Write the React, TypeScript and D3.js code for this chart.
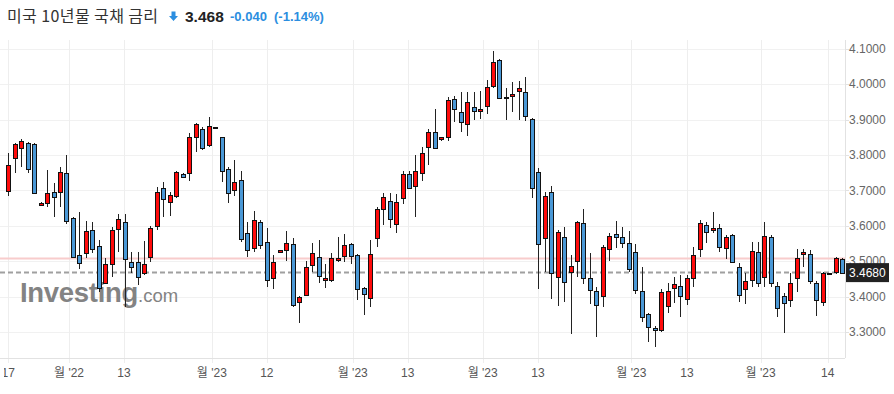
import React from "react";
import * as d3 from "d3";

// daily OHLC, US 10Y yield
const opens = [
  3.699, 3.792, 3.82, 3.834, 3.831, 3.659, 3.665, 3.696, 3.696, 3.75,
  3.622, 3.518, 3.523, 3.588, 3.544, 3.439, 3.492, 3.591, 3.611, 3.498,
  3.498, 3.467, 3.512, 3.6, 3.707, 3.668, 3.685, 3.747, 3.75, 3.851,
  3.874, 3.829, 3.88, 3.851, 3.761, 3.702, 3.73, 3.58, 3.538, 3.611,
  3.555, 3.453, 3.526, 3.532, 3.549, 3.385, 3.405, 3.49, 3.512, 3.447,
  3.447, 3.504, 3.515, 3.549, 3.518, 3.425, 3.396, 3.566, 3.648, 3.67,
  3.605, 3.679, 3.747, 3.713, 3.75, 3.823, 3.865, 3.846, 3.851, 3.959,
  3.922, 3.888, 3.936, 3.925, 3.939, 3.995, 4.069, 3.964, 3.967, 3.981,
  3.978, 3.902, 3.752, 3.566, 3.696, 3.456, 3.569, 3.47, 3.501, 3.608,
  3.453, 3.416, 3.402, 3.535, 3.577, 3.569, 3.552, 3.526, 3.416, 3.351,
  3.312, 3.306, 3.374, 3.425, 3.43, 3.394, 3.453, 3.535, 3.603, 3.588,
  3.594, 3.538, 3.574, 3.484, 3.422, 3.447, 3.526, 3.456, 3.569, 3.43,
  3.402, 3.391, 3.453, 3.521, 3.521, 3.439, 3.385, 3.468, 3.47, 3.507,
];
const highs = [
  3.806, 3.834, 3.846, 3.837, 3.833, 3.667, 3.758, 3.721, 3.766, 3.8,
  3.624, 3.639, 3.614, 3.611, 3.56, 3.509, 3.597, 3.634, 3.634, 3.526,
  3.526, 3.557, 3.6, 3.71, 3.724, 3.696, 3.755, 3.75, 3.862, 3.891,
  3.879, 3.908, 3.88, 3.851, 3.766, 3.786, 3.755, 3.611, 3.642, 3.617,
  3.594, 3.518, 3.532, 3.586, 3.566, 3.402, 3.501, 3.552, 3.56, 3.492,
  3.523, 3.569, 3.577, 3.552, 3.521, 3.427, 3.56, 3.653, 3.693, 3.693,
  3.69, 3.755, 3.755, 3.8, 3.823, 3.874, 3.93, 3.852, 3.964, 3.967,
  3.978, 3.978, 3.978, 3.981, 4.012, 4.094, 4.072, 3.99, 4.007, 4.009,
  4.021, 3.904, 3.764, 3.696, 3.713, 3.588, 3.597, 3.518, 3.614, 3.648,
  3.523, 3.427, 3.546, 3.58, 3.614, 3.597, 3.586, 3.549, 3.484, 3.354,
  3.317, 3.422, 3.439, 3.456, 3.461, 3.461, 3.54, 3.617, 3.611, 3.639,
  3.605, 3.575, 3.577, 3.495, 3.467, 3.555, 3.555, 3.611, 3.574, 3.442,
  3.411, 3.467, 3.535, 3.535, 3.532, 3.444, 3.47, 3.468, 3.512, 3.509,
];
const lows = [
  3.684, 3.75, 3.766, 3.75, 3.69, 3.657, 3.653, 3.625, 3.653, 3.605,
  3.511, 3.478, 3.509, 3.523, 3.414, 3.436, 3.456, 3.526, 3.371, 3.467,
  3.433, 3.461, 3.498, 3.588, 3.625, 3.628, 3.679, 3.735, 3.727, 3.809,
  3.814, 3.823, 3.88, 3.724, 3.665, 3.685, 3.555, 3.512, 3.526, 3.535,
  3.427, 3.422, 3.526, 3.501, 3.371, 3.326, 3.403, 3.47, 3.439, 3.425,
  3.442, 3.498, 3.498, 3.492, 3.391, 3.348, 3.371, 3.54, 3.603, 3.594,
  3.58, 3.662, 3.705, 3.625, 3.727, 3.772, 3.817, 3.84, 3.84, 3.894,
  3.865, 3.854, 3.899, 3.902, 3.916, 3.99, 3.958, 3.899, 3.922, 3.899,
  3.896, 3.679, 3.422, 3.47, 3.394, 3.374, 3.385, 3.295, 3.456, 3.436,
  3.379, 3.286, 3.371, 3.501, 3.538, 3.538, 3.47, 3.408, 3.329, 3.272,
  3.258, 3.3, 3.354, 3.382, 3.343, 3.377, 3.427, 3.512, 3.552, 3.58,
  3.526, 3.507, 3.495, 3.385, 3.379, 3.427, 3.427, 3.427, 3.427, 3.343,
  3.297, 3.371, 3.413, 3.484, 3.436, 3.346, 3.374, 3.468, 3.464, 3.464,
];
const closes = [
  3.772, 3.831, 3.84, 3.761, 3.693, 3.665, 3.693, 3.682, 3.752, 3.614,
  3.512, 3.495, 3.586, 3.535, 3.424, 3.492, 3.588, 3.619, 3.507, 3.484,
  3.456, 3.492, 3.594, 3.696, 3.676, 3.687, 3.752, 3.738, 3.851, 3.888,
  3.82, 3.882, 3.88, 3.755, 3.693, 3.724, 3.563, 3.532, 3.617, 3.546,
  3.447, 3.498, 3.532, 3.552, 3.377, 3.399, 3.484, 3.523, 3.459, 3.453,
  3.509, 3.509, 3.546, 3.515, 3.422, 3.408, 3.521, 3.648, 3.682, 3.619,
  3.668, 3.747, 3.707, 3.755, 3.806, 3.865, 3.82, 3.851, 3.956, 3.93,
  3.894, 3.95, 3.925, 3.93, 3.992, 4.063, 3.961, 3.961, 3.973, 3.99,
  3.911, 3.707, 3.549, 3.685, 3.467, 3.583, 3.442, 3.487, 3.611, 3.453,
  3.419, 3.377, 3.54, 3.572, 3.569, 3.552, 3.478, 3.419, 3.343, 3.314,
  3.306, 3.413, 3.416, 3.436, 3.402, 3.453, 3.518, 3.608, 3.583, 3.594,
  3.54, 3.569, 3.498, 3.405, 3.444, 3.529, 3.439, 3.572, 3.439, 3.368,
  3.382, 3.439, 3.509, 3.526, 3.444, 3.391, 3.467, 3.468, 3.509, 3.468,
];

// x-axis ticks (positions in candle index units) and their labels
const tickPos = [0, 9.4, 17.9, 31.5, 40, 53.3, 61.8, 73.4, 81.95, 96.4, 105, 116.4, 126.8];
const tickLabels = ["17", "월 '22", "13", "월 '23", "12", "월 '23", "13", "월 '23", "13", "월 '23", "13", "월 '23", "14"];
const yTicks = [3.3, 3.4, 3.5, 3.6, 3.7, 3.8, 3.9, 4.0, 4.1];

const lastPrice = 3.468;
const prevClose = 3.508;
const change = "-0.040";
const changePct = "(-1.14%)";
const title = "미국 10년물 국채 금리";

const W = 894;
const H = 394;
const plotRight = 845;
const plotTop = 40;
const plotBottom = 358;

const UP = "#ff0b0b";
const DOWN = "#4a98d6";
const FONT = "'Liberation Sans', Arial, 'Noto Sans CJK KR', sans-serif";

export default function App() {
  const n = opens.length;
  const x = d3.scaleLinear().domain([0, n - 1]).range([8.3, 842]);
  const y = d3.scaleLinear().domain([3.2268, 4.1251]).range([plotBottom, plotTop]);
  const fmt = d3.format(".4f");
  const bw = 4;

  const candles = d3.range(n).map((i) => {
    const o = opens[i], c = closes[i], h = highs[i], l = lows[i];
    const cx = Math.round(x(i)) + 0.5;
    const top = y(Math.max(o, c));
    const bot = y(Math.min(o, c));
    const up = c >= o;
    return (
      <g key={i}>
        <line x1={cx} x2={cx} y1={y(h)} y2={y(l)} stroke="#222" strokeWidth={1} />
        <rect
          x={cx - bw / 2}
          y={Math.round(top) + 0.5}
          width={bw}
          height={Math.max(1, Math.round(bot - top))}
          fill={o === c ? "#333" : up ? UP : DOWN}
          stroke="#111"
          strokeWidth={1}
        />
      </g>
    );
  });

  return (
    <svg width={W} height={H} style={{ position: "absolute", left: 0, top: 0, background: "#fff" }}>
      <defs>
        <clipPath id="xlab">
          <rect x={4} y={360} width={W} height={30} />
        </clipPath>
      </defs>

      {/* header */}
      <text x={7} y={22} fontFamily="'Noto Sans CJK KR', sans-serif" fontSize={16} letterSpacing={0.4} fill="#333">
        {title}
      </text>
      <path d="M171.5,11.5 h4 v4.5 h2.5 l-4.5,5 l-4.5,-5 h2.5 z" fill="#2b8ee0" />
      <text x={185} y={21.5} fontFamily={FONT} fontSize={15.5} fontWeight="bold" fill="#222">
        {lastPrice.toFixed(3)}
      </text>
      <text x={230} y={21} fontFamily={FONT} fontSize={13} fontWeight="bold" fill="#2b8ee0">
        {change}
      </text>
      <text x={274} y={21} fontFamily={FONT} fontSize={13} fontWeight="bold" fill="#2b8ee0">
        {changePct}
      </text>

      {/* grid */}
      {yTicks.map((t) => (
        <line key={"hg" + t} x1={0} x2={plotRight} y1={Math.round(y(t)) + 0.5} y2={Math.round(y(t)) + 0.5} stroke="#f1f1f1" />
      ))}
      {tickPos.map((p, i) => (
        <line key={"vg" + i} x1={Math.round(x(p)) + 0.5} x2={Math.round(x(p)) + 0.5} y1={plotTop} y2={plotBottom + 5} stroke="#eeeeee" />
      ))}

      {/* watermark */}
      <text x={20} y={302} fontFamily={FONT} fill="#838383">
        <tspan fontSize={27.5} fontWeight="bold" letterSpacing={-0.3}>Investing</tspan>
        <tspan fontSize={18.5}>.com</tspan>
      </text>

      {/* previous close and last price lines */}
      <line x1={0} x2={plotRight} y1={y(prevClose)} y2={y(prevClose)} stroke="#f8cccc" strokeWidth={2} />
      <line x1={0} x2={plotRight} y1={y(lastPrice)} y2={y(lastPrice)} stroke="#a0a0a0" strokeWidth={2} strokeDasharray="5 3" />

      <g shapeRendering="crispEdges">{candles}</g>

      {/* axes */}
      <line x1={plotRight + 0.5} x2={plotRight + 0.5} y1={plotTop} y2={plotBottom} stroke="#e2e2e2" />
      <line x1={0} x2={plotRight} y1={plotBottom + 0.5} y2={plotBottom + 0.5} stroke="#e2e2e2" />
      {yTicks.map((t) => (
        <g key={"yt" + t}>
          <line x1={plotRight} x2={plotRight + 4} y1={Math.round(y(t)) + 0.5} y2={Math.round(y(t)) + 0.5} stroke="#e2e2e2" />
          <text x={849} y={y(t)} dy="0.35em" fontFamily={FONT} fontSize={12} fill="#666">
            {fmt(t)}
          </text>
        </g>
      ))}
      <rect x={846} y={y(lastPrice) - 9.5} width={43} height={19} fill="#222" />
      <text x={849} y={y(lastPrice)} dy="0.35em" fontFamily={FONT} fontSize={12} fill="#fff">
        {fmt(lastPrice)}
      </text>

      <g clipPath="url(#xlab)">
        {tickPos.map((p, i) => (
          <text key={"xl" + i} x={x(p)} y={377} textAnchor="middle" fontFamily={FONT} fontSize={12} fill="#555">
            {tickLabels[i]}
          </text>
        ))}
      </g>
    </svg>
  );
}
